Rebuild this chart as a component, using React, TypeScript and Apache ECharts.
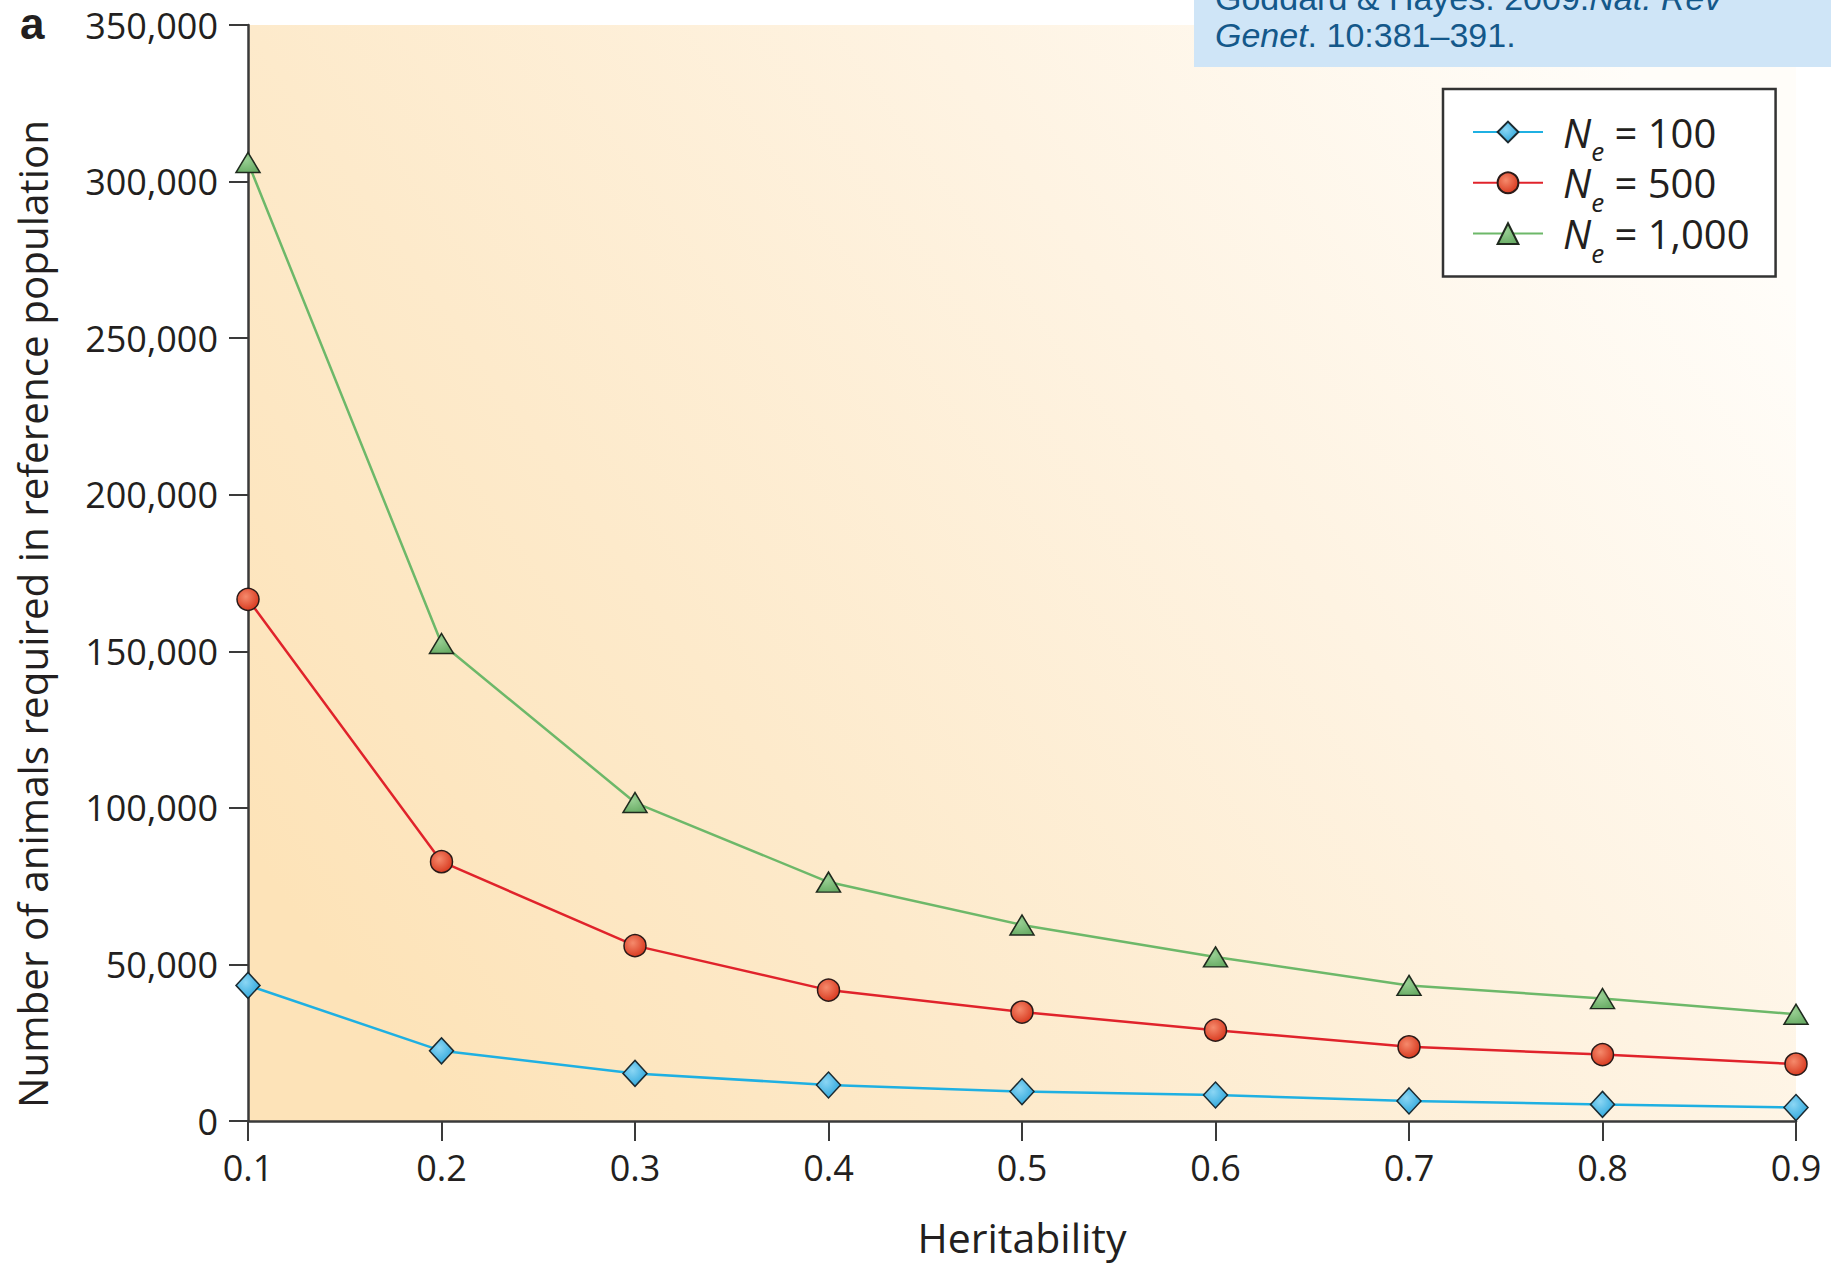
import React, { useEffect, useRef } from 'react';
import * as echarts from 'echarts';

// ---- data ----
const heritability = ['0.1', '0.2', '0.3', '0.4', '0.5', '0.6', '0.7', '0.8', '0.9'];
const ne100 = [43300, 22400, 15200, 11500, 9400, 8300, 6400, 5300, 4300];
const ne500 = [166600, 82800, 56000, 41800, 34800, 29000, 23700, 21200, 18200];
const ne1000 = [306100, 152500, 101700, 76300, 62600, 52400, 43300, 39100, 34100];
const seriesNames = ['Ne = 100', 'Ne = 500', 'Ne = 1,000'];
const yMin = 0;
const yMax = 350000;
const yStep = 50000;
const xTitle = 'Heritability';
const yTitle = 'Number of animals required in reference population';
const panelLabel = 'a';
const cite1Plain = 'Goddard & Hayes. 2009.';
const cite1Italic = 'Nat. Rev';
const cite2Italic = 'Genet';
const cite2Plain = '. 10:381–391.';

const W = 1831;
const H = 1265;
const FONT = '"Open Sans", "Noto Sans", sans-serif';
const CITE_FONT = '"Liberation Sans", Arial, sans-serif';
const INK = '#231f20';

export default function App() {
  const ref = useRef<HTMLDivElement>(null);

  useEffect(() => {
    if (!ref.current) return;
    const chart = echarts.init(ref.current, undefined, { renderer: 'svg', width: W, height: H });

    const radial = (c0: string, c1: string) => ({
      type: 'radial',
      x: 0.4,
      y: 0.38,
      r: 0.65,
      colorStops: [
        { offset: 0, color: c0 },
        { offset: 1, color: c1 },
      ],
    });

    const option: any = {
      animation: false,
      backgroundColor: '#ffffff',
      textStyle: { fontFamily: FONT },
      grid: {
        left: 248,
        right: 35,
        top: 25,
        bottom: 144,
        show: true,
        borderWidth: 0,
        backgroundColor: {
          type: 'linear',
          x: 0,
          y: 0.75,
          x2: 1,
          y2: 0.25,
          colorStops: [
            { offset: 0, color: '#fde3b8' },
            { offset: 0.3, color: '#fdeacb' },
            { offset: 0.65, color: '#fef3e2' },
            { offset: 1, color: '#fffdf9' },
          ],
        },
      },
      xAxis: {
        type: 'category',
        data: heritability,
        boundaryGap: false,
        name: xTitle,
        nameLocation: 'middle',
        nameGap: 95,
        nameTextStyle: { fontFamily: FONT, fontSize: 41, color: INK },
        axisLine: { show: true, lineStyle: { color: '#3a3a3a', width: 2.5 } },
        axisTick: { show: true, length: 20, lineStyle: { color: '#3a3a3a', width: 2 } },
        axisLabel: { interval: 0, margin: 28, fontFamily: FONT, fontSize: 36, color: INK },
        splitLine: { show: false },
      },
      yAxis: {
        type: 'value',
        min: yMin,
        max: yMax,
        interval: yStep,
        name: yTitle,
        nameLocation: 'middle',
        nameGap: 196,
        nameRotate: 90,
        nameTextStyle: { fontFamily: FONT, fontSize: 40.4, color: INK, padding: [0, 82, 0, 0] },
        axisLine: { show: true, lineStyle: { color: '#3a3a3a', width: 2.5 } },
        axisTick: { show: true, length: 19, lineStyle: { color: '#3a3a3a', width: 2 } },
        axisLabel: {
          margin: 30,
          fontFamily: FONT,
          fontSize: 36,
          color: INK,
          formatter: (v: number) => v.toLocaleString('en-US'),
        },
        splitLine: { show: false },
      },
      legend: {
        orient: 'vertical',
        left: 1443,
        top: 89,
        padding: [23, 26, 11, 29],
        itemWidth: 70,
        itemHeight: 26,
        itemGap: -1.2,
        backgroundColor: '#ffffff',
        borderColor: '#333333',
        borderWidth: 2.5,
        borderRadius: 0,
        data: seriesNames,
        formatter: (name: string) => `{n|N}{e|e}{t| = ${name.split('= ')[1]}}`,
        textStyle: {
          fontFamily: FONT,
          color: INK,
          rich: {
            n: { fontFamily: FONT, fontStyle: 'italic', fontSize: 40, lineHeight: 44, color: INK, padding: [0, 0, 0, 15] },
            e: {
              fontFamily: FONT,
              fontStyle: 'italic',
              fontSize: 26,
              height: 6,
              lineHeight: 6,
              verticalAlign: 'bottom',
              color: INK,
            },
            t: { fontFamily: FONT, fontSize: 40, lineHeight: 44, color: INK },
          },
        },
      },
      series: [
        {
          name: seriesNames[0],
          type: 'line',
          data: ne100,
          clip: false,
          z: 4,
          symbol: 'diamond',
          symbolSize: [24, 26],
          lineStyle: { color: '#1fb0e2', width: 2.5 },
          itemStyle: { color: radial('#8bd6f4', '#2ea7dc'), borderColor: '#1b2a30', borderWidth: 1.5 },
        },
        {
          name: seriesNames[1],
          type: 'line',
          data: ne500,
          clip: false,
          z: 5,
          symbol: 'circle',
          symbolSize: 22,
          lineStyle: { color: '#e0232b', width: 2.5 },
          itemStyle: { color: radial('#f58a6c', '#d8391f'), borderColor: '#2a1a18', borderWidth: 1.5 },
        },
        {
          name: seriesNames[2],
          type: 'line',
          data: ne1000,
          clip: false,
          z: 6,
          symbol: 'triangle',
          symbolSize: [24, 20],
          lineStyle: { color: '#6db869', width: 2.5 },
          itemStyle: { color: radial('#98cf93', '#6aad66'), borderColor: '#1f2a1e', borderWidth: 1.5 },
        },
      ],
      graphic: [
        {
          type: 'text',
          x: 20,
          y: 1,
          z: 10,
          style: {
            text: panelLabel,
            fontFamily: CITE_FONT,
            fontWeight: 'bold',
            fontSize: 44,
            fill: INK,
            align: 'left',
            verticalAlign: 'top',
          },
        },
        {
          type: 'rect',
          z: 20,
          shape: { x: 1194, y: 0, width: W - 1194, height: 67 },
          style: { fill: '#cfe5f7' },
        },
        {
          type: 'text',
          x: 1215,
          y: -2,
          z: 21,
          style: {
            text: `{p|${cite1Plain}}{i|${cite1Italic}}`,
            align: 'left',
            verticalAlign: 'middle',
            rich: {
              p: { fontFamily: CITE_FONT, fontSize: 34, fill: '#14588a' },
              i: { fontFamily: CITE_FONT, fontSize: 34, fontStyle: 'italic', fill: '#14588a' },
            },
          },
        },
        {
          type: 'text',
          x: 1215,
          y: 35,
          z: 21,
          style: {
            text: `{i|${cite2Italic}}{p|${cite2Plain}}`,
            align: 'left',
            verticalAlign: 'middle',
            rich: {
              p: { fontFamily: CITE_FONT, fontSize: 34, fill: '#14588a' },
              i: { fontFamily: CITE_FONT, fontSize: 34, fontStyle: 'italic', fill: '#14588a' },
            },
          },
        },
      ],
    };

    chart.setOption(option);
    return () => chart.dispose();
  }, []);

  return (
    <div
      ref={ref}
      style={{ position: 'absolute', left: 0, top: 0, width: W, height: H, background: '#ffffff' }}
    />
  );
}
